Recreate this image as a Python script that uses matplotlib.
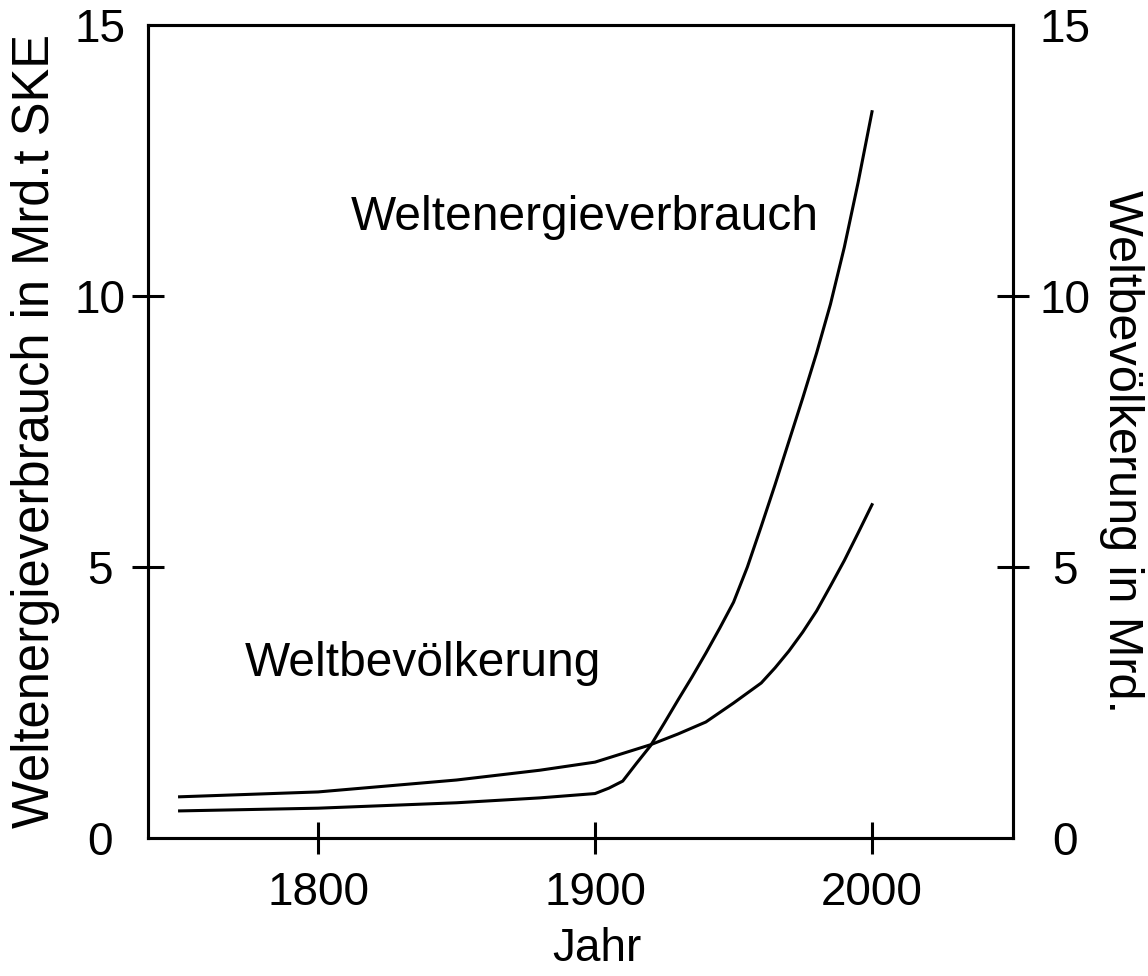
import matplotlib
matplotlib.use("Agg")
import matplotlib.pyplot as plt

plt.rcParams["font.family"] = ["Liberation Sans", "DejaVu Sans"]

# Weltenergieverbrauch (Mrd. t SKE), linke Achse
jahre_energie = [1750, 1800, 1850, 1880, 1900, 1905, 1910, 1915, 1920, 1925,
                 1930, 1935, 1940, 1945, 1950, 1955, 1960, 1965, 1970, 1975,
                 1980, 1985, 1990, 1995, 2000]
energie = [0.50, 0.55, 0.65, 0.74, 0.82, 0.92, 1.05, 1.38, 1.70, 2.12,
           2.55, 2.97, 3.41, 3.87, 4.35, 5.00, 5.75, 6.52, 7.32, 8.12,
           8.95, 9.85, 10.90, 12.10, 13.40]

# Weltbevoelkerung (Mrd.), rechte Achse
jahre_bev = [1750, 1800, 1850, 1880, 1900, 1910, 1920, 1930, 1940, 1950,
             1960, 1965, 1970, 1975, 1980, 1985, 1990, 1995, 2000]
bevoelkerung = [0.76, 0.85, 1.07, 1.25, 1.40, 1.56, 1.72, 1.92, 2.14, 2.49,
                2.86, 3.14, 3.45, 3.80, 4.19, 4.65, 5.12, 5.63, 6.15]

x_ticks = [1800, 1900, 2000]
y_ticks = [0, 5, 10, 15]

lw = 2.2

fig = plt.figure(figsize=(11.48, 9.76), dpi=100)
ax = fig.add_axes([148 / 1148, 138 / 976, 865 / 1148, 813 / 976])
ax2 = ax.twinx()

ax.plot(jahre_energie, energie, color="black", lw=lw, solid_joinstyle="round")
ax2.plot(jahre_bev, bevoelkerung, color="black", lw=lw, solid_joinstyle="round")

ax.set_xlim(1738.6, 2050.9)
ax.set_ylim(0, 15)
ax2.set_ylim(0, 15)

ax.set_xticks(x_ticks)
ax.set_yticks(y_ticks)
ax2.set_yticks(y_ticks)

for a in (ax, ax2):
    for s in a.spines.values():
        s.set_linewidth(lw)

ax.tick_params(axis="x", direction="inout", length=23, width=lw, labelsize=33, pad=12)
ax.tick_params(axis="y", direction="inout", length=23, width=lw, labelsize=33, pad=23)
ax2.tick_params(axis="y", direction="inout", length=23, width=lw, labelsize=33, pad=26)

# keine Striche bei 0 und 15
for a in (ax, ax2):
    ticks = a.yaxis.get_major_ticks()
    for t in (ticks[0], ticks[-1]):
        t.tick1line.set_visible(False)
        t.tick2line.set_visible(False)
for lbl in ax.get_yticklabels() + ax2.get_yticklabels():
    lbl.set_horizontalalignment("center")

ax.set_xlabel("Jahr", fontsize=33)
ax.xaxis.set_label_coords(0.519, -0.11)
ax.set_ylabel("Weltenergieverbrauch in Mrd.t SKE", fontsize=36.5)
ax.yaxis.set_label_coords(-0.102, 0.5)
ax2.text(1.126, 0.475, "Weltbevölkerung in Mrd.", rotation=-90, fontsize=35,
         ha="center", va="center", transform=ax2.transAxes)

ax.text(1896.4, 11.45, "Weltenergieverbrauch", fontsize=34.5, ha="center", va="center")
ax.text(1837.9, 3.22, "Weltbevölkerung", fontsize=34.5, ha="center", va="center")

fig.savefig("out.png", dpi=100)
